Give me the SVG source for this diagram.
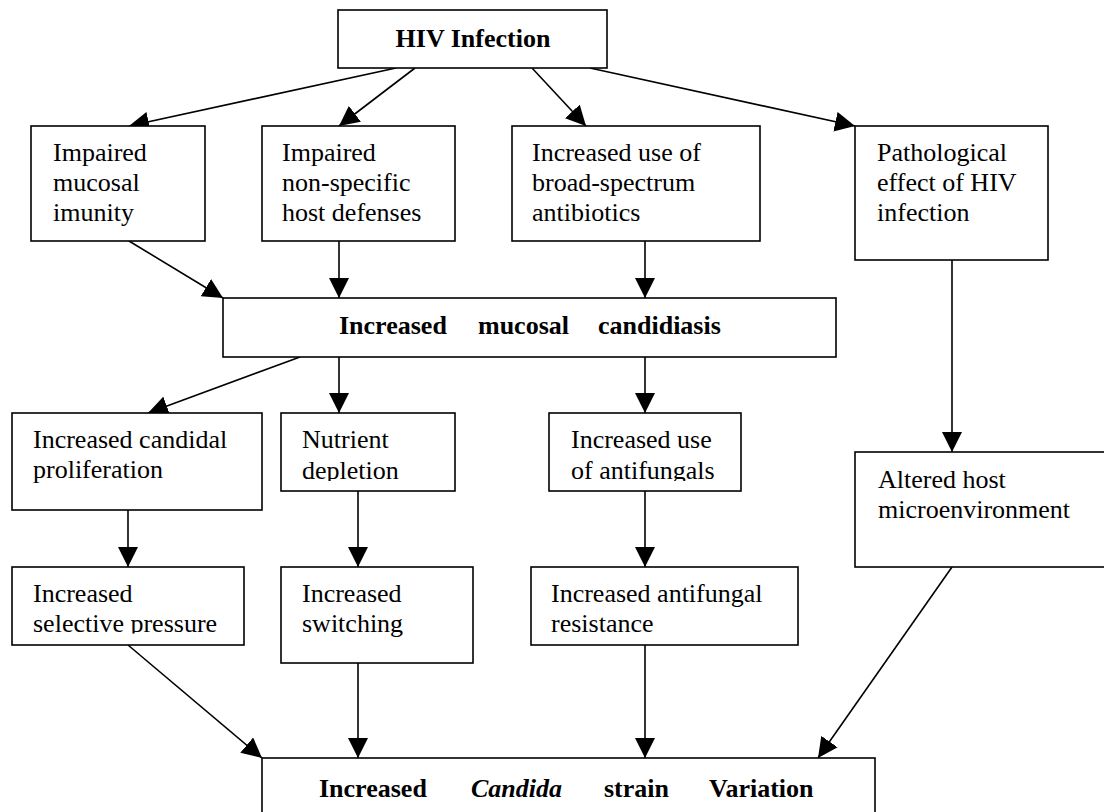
<svg xmlns="http://www.w3.org/2000/svg" width="1104" height="812" viewBox="0 0 1104 812">
<style>
.box{fill:#fff;stroke:#000;stroke-width:1.6}
.t{font-family:"Liberation Serif","Times New Roman",serif;font-size:26px;fill:#000}
.b{font-weight:bold}
.i{font-style:italic}
.c line{stroke:#000;stroke-width:1.6;marker-end:url(#ah)}
</style>
<defs>
<marker id="ah" markerUnits="userSpaceOnUse" markerWidth="20" markerHeight="20" refX="20" refY="10" orient="auto">
<path d="M0,0 L20,10 L0,20 z" fill="#000"/>
</marker>
<clipPath id="clipNut"><rect x="281" y="413" width="174" height="68"/></clipPath>
<clipPath id="clipUse"><rect x="549" y="413" width="192" height="68"/></clipPath>
<clipPath id="clipSel"><rect x="12" y="567" width="232" height="66.5"/></clipPath>
</defs>
<rect width="1104" height="812" fill="#fff"/>
<g class="c">
<line x1="396" y1="68" x2="129" y2="126"/>
<line x1="415" y1="68" x2="339" y2="126"/>
<line x1="532" y1="68" x2="586" y2="126"/>
<line x1="590" y1="68" x2="855" y2="126"/>
<line x1="129" y1="241" x2="223" y2="298"/>
<line x1="339" y1="241" x2="339" y2="298"/>
<line x1="645" y1="241" x2="645" y2="298"/>
<line x1="952" y1="260" x2="952" y2="452"/>
<line x1="300" y1="357" x2="148" y2="413"/>
<line x1="339" y1="357" x2="339" y2="413"/>
<line x1="645" y1="357" x2="645" y2="413"/>
<line x1="128" y1="510" x2="128" y2="567"/>
<line x1="358" y1="491" x2="358" y2="567"/>
<line x1="645" y1="491" x2="645" y2="567"/>
<line x1="128" y1="645" x2="262" y2="758"/>
<line x1="358" y1="663" x2="358" y2="758"/>
<line x1="645" y1="645" x2="645" y2="758"/>
<line x1="952" y1="567" x2="818" y2="758"/>
</g>
<g id="hiv">
<rect class="box" x="338" y="10" width="269" height="58"/>
<text class="t b" x="473" y="47" text-anchor="middle">HIV Infection</text>
</g>
<g id="mucosal-immunity">
<rect class="box" x="31" y="126" width="174" height="115"/>
<text class="t" x="53" y="161">Impaired</text>
<text class="t" x="53" y="191">mucosal</text>
<text class="t" x="53" y="221">imunity</text>
</g>
<g id="host-defenses">
<rect class="box" x="262" y="126" width="193" height="115"/>
<text class="t" x="282" y="161">Impaired</text>
<text class="t" x="282" y="191">non-specific</text>
<text class="t" x="282" y="221">host defenses</text>
</g>
<g id="antibiotics">
<rect class="box" x="512" y="126" width="248" height="115"/>
<text class="t" x="532" y="161">Increased use of</text>
<text class="t" x="532" y="191">broad-spectrum</text>
<text class="t" x="532" y="221">antibiotics</text>
</g>
<g id="pathological">
<rect class="box" x="855" y="126" width="193" height="134"/>
<text class="t" x="877" y="161">Pathological</text>
<text class="t" x="877" y="191">effect of HIV</text>
<text class="t" x="877" y="221">infection</text>
</g>
<g id="candidiasis">
<rect class="box" x="223" y="298" width="613" height="59"/>
<text class="t b" x="339" y="334">Increased</text>
<text class="t b" x="478" y="334">mucosal</text>
<text class="t b" x="598" y="334">candidiasis</text>
</g>
<g id="proliferation">
<rect class="box" x="12" y="413" width="250" height="97"/>
<text class="t" x="33" y="448">Increased candidal</text>
<text class="t" x="33" y="478">proliferation</text>
</g>
<g id="nutrient">
<rect class="box" x="281" y="413" width="174" height="78"/>
<g clip-path="url(#clipNut)">
<text class="t" x="302" y="448">Nutrient</text>
<text class="t" x="302" y="479">depletion</text>
</g>
</g>
<g id="antifungal-use">
<rect class="box" x="549" y="413" width="192" height="78"/>
<g clip-path="url(#clipUse)">
<text class="t" x="571" y="448">Increased use</text>
<text class="t" x="571" y="479">of antifungals</text>
</g>
</g>
<g id="altered">
<rect class="box" x="855" y="452" width="260" height="115"/>
<text class="t" x="878" y="488">Altered host</text>
<text class="t" x="878" y="518">microenvironment</text>
</g>
<g id="selective">
<rect class="box" x="12" y="567" width="232" height="78"/>
<g clip-path="url(#clipSel)">
<text class="t" x="33" y="602">Increased</text>
<text class="t" x="33" y="632">selective pressure</text>
</g>
</g>
<g id="switching">
<rect class="box" x="281" y="567" width="192" height="96"/>
<text class="t" x="302" y="602">Increased</text>
<text class="t" x="302" y="632">switching</text>
</g>
<g id="resistance">
<rect class="box" x="531" y="567" width="267" height="78"/>
<text class="t" x="551" y="602">Increased antifungal</text>
<text class="t" x="551" y="632">resistance</text>
</g>
<g id="strain-variation">
<rect class="box" x="262" y="758" width="613" height="80"/>
<text class="t b" x="319" y="797">Increased</text>
<text class="t b i" x="471" y="797">Candida</text>
<text class="t b" x="604" y="797">strain</text>
<text class="t b" x="709" y="797">Variation</text>
</g>
</svg>
